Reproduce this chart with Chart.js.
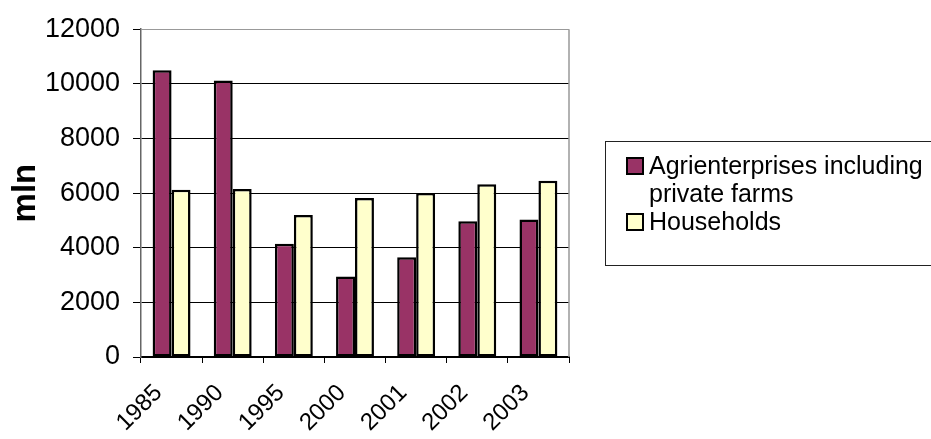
<!DOCTYPE html>
<html>
<head>
<meta charset="utf-8">
<script src="https://cdn.jsdelivr.net/npm/chart.js@4"></script>
<style>
  html, body { margin:0; padding:0; background:#fff; }
  #wrap { position:relative; width:931px; height:439px; overflow:hidden; font-family:Arial, 'Liberation Sans', sans-serif; }
  #legend { position:absolute; left:605px; top:141px; width:360px; height:125px; border:1px solid #222; box-sizing:border-box; }
  .item { position:absolute; left:20px; font-size:25px; line-height:28px; color:#000; }
  .item .box { position:absolute; left:0; top:6px; width:14px; height:14px; border:2px solid #000; }
  .item .txt { display:block; margin-left:23px; }
</style>
</head>
<body>
<div id="wrap">
  <canvas id="c" width="931" height="439"></canvas>
  <div id="legend"></div>
</div>
<script>
const years = ['1985', '1990', '1995', '2000', '2001', '2002', '2003'];
const agriEnterprises = [10500, 10120, 4150, 2950, 3650, 4970, 5030];
const households = [6120, 6150, 5200, 5820, 6000, 6320, 6450];
const yTicks = [0, 2000, 4000, 6000, 8000, 10000, 12000];

const seriesNames = ['Agrienterprises including private farms', 'Households'];
const seriesColors = ['#993366', '#FFFFCC'];

// right-hand frame line of the plot area
const frame = {
  id: 'frame',
  afterDatasetsDraw(chart){
    const { ctx, chartArea: a } = chart;
    ctx.save();
    ctx.strokeStyle = '#999';
    ctx.lineWidth = 1.5;
    ctx.beginPath();
    ctx.moveTo(a.right, a.top);
    ctx.lineTo(a.right, a.bottom);
    ctx.stroke();
    ctx.restore();
  }
};

new Chart(document.getElementById('c'), {
  type: 'bar',
  data: {
    labels: years,
    datasets: [
      { label: seriesNames[0], data: agriEnterprises, backgroundColor: seriesColors[0] },
      { label: seriesNames[1], data: households, backgroundColor: seriesColors[1] }
    ]
  },
  options: {
    responsive: false,
    animation: false,
    devicePixelRatio: 1,
    layout: { padding: { left: 0, top: 25, right: 362, bottom: 0 } },
    datasets: {
      bar: {
        categoryPercentage: 0.62,
        barPercentage: 1.0,
        borderColor: '#000',
        borderWidth: 2.5,
        borderSkipped: false
      }
    },
    plugins: {
      legend: { display: false },
      tooltip: { enabled: false }
    },
    scales: {
      x: {
        afterFit(s){ s.height = 82; },
        grid: { offset: true, drawOnChartArea: false, tickLength: 6, color: '#000', lineWidth: 1 },
        border: { color: '#000', width: 2 },
        ticks: {
          color: '#000',
          font: { family: 'Arial, "Liberation Sans"', size: 24 },
          minRotation: 45, maxRotation: 45,
          labelOffset: -13,
          padding: 16
        }
      },
      y: {
        min: 0,
        max: 12000,
        afterFit(s){ s.width = 141; },
        afterBuildTicks(s){ s.ticks = yTicks.map(v => ({ value: v })); },
        grid: {
          color: ctx => ctx.tick && ctx.tick.value === 12000 ? '#999' : '#000',
          tickColor: '#000',
          lineWidth: 1,
          tickLength: 8
        },
        border: { color: '#666', width: 1.5 },
        ticks: {
          color: '#000',
          font: { family: 'Arial, "Liberation Sans"', size: 27 },
          padding: 13,
          callback: v => String(v)
        },
        title: {
          display: true,
          text: 'mln',
          color: '#000',
          font: { family: 'Arial, "Liberation Sans"', size: 33, weight: 'bold' },
          padding: { top: 6, bottom: 0 }
        }
      }
    }
  },
  plugins: [frame]
});

// legend built from the series names and colours
const legend = document.getElementById('legend');
const tops = [9, 65];
seriesNames.forEach((name, i) => {
  const item = document.createElement('div');
  item.className = 'item';
  item.style.top = tops[i] + 'px';
  const txt = i === 0 ? 'Agrienterprises including<br>private farms' : name;
  item.innerHTML = '<span class="box" style="background:' + seriesColors[i] + '"></span><span class="txt">' + txt + '</span>';
  legend.appendChild(item);
});
</script>
</body>
</html>
